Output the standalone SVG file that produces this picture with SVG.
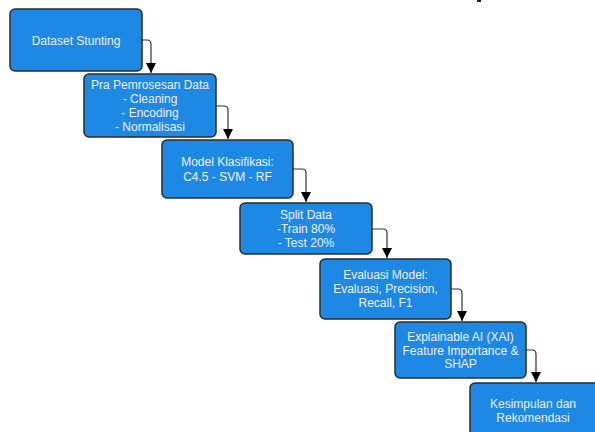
<svg xmlns="http://www.w3.org/2000/svg" width="595" height="432" viewBox="0 0 595 432">
<style>
.box{fill:#1E88E5;stroke:#2b2b2b;stroke-width:1.5}
.t{font-family:"Liberation Sans",Arial,sans-serif;font-size:12px;fill:#f2f2f2;text-anchor:middle}
.c{fill:none;stroke:#333;stroke-width:1.2}
</style>
<defs>
<marker id="ah" markerWidth="10" markerHeight="10" refX="10" refY="5" orient="auto" markerUnits="userSpaceOnUse" viewBox="0 0 10 10">
<path d="M0,0 L10,5 L0,10 Z" fill="#000"/>
</marker>
</defs>
<rect width="595" height="432" fill="#fff"/>
<g id="connectors">
<path class="c" d="M142,40 H147 Q151,40 151,44 V73" marker-end="url(#ah)"/>
<path class="c" d="M216,106 H224 Q228,106 228,110 V139" marker-end="url(#ah)"/>
<path class="c" d="M293,169 H302 Q306,169 306,173 V202" marker-end="url(#ah)"/>
<path class="c" d="M372,229 H383 Q387,229 387,233 V258" marker-end="url(#ah)"/>
<path class="c" d="M451,289 H458 Q462,289 462,293 V321" marker-end="url(#ah)"/>
<path class="c" d="M526,350 H532 Q536,350 536,354 V382" marker-end="url(#ah)"/>
<rect x="477" y="0" width="4" height="2" fill="#222"/>
</g>
<g id="n1"><rect class="box" x="10" y="9" width="132" height="62" rx="5"/><text class="t" x="76" y="45">Dataset Stunting</text></g>
<g id="n2"><rect class="box" x="84" y="74" width="132" height="63" rx="5"/>
<text class="t" x="150" y="89">Pra Pemrosesan Data</text><text class="t" x="150" y="103">- Cleaning</text><text class="t" x="150" y="117">- Encoding</text><text class="t" x="150" y="131">- Normalisasi</text></g>
<g id="n3"><rect class="box" x="162" y="140" width="131" height="58" rx="5"/>
<text class="t" x="227.5" y="166">Model Klasifikasi:</text><text class="t" x="227.5" y="181">C4.5 - SVM - RF</text></g>
<g id="n4"><rect class="box" x="240" y="203" width="132" height="51" rx="5"/>
<text class="t" x="306" y="219">Split Data</text><text class="t" x="306" y="233">-Train 80%</text><text class="t" x="306" y="247">- Test 20%</text></g>
<g id="n5"><rect class="box" x="320" y="259" width="131" height="60" rx="5"/>
<text class="t" x="385.5" y="279">Evaluasi Model:</text><text class="t" x="385.5" y="293">Evaluasi, Precision,</text><text class="t" x="385.5" y="307">Recall, F1</text></g>
<g id="n6"><rect class="box" x="395" y="322" width="131" height="56" rx="5"/>
<text class="t" x="460.5" y="341">Explainable AI (XAI)</text><text class="t" x="460.5" y="355">Feature Importance &amp;</text><text class="t" x="460.5" y="368">SHAP</text></g>
<g id="n7"><rect class="box" x="470" y="383" width="132" height="60" rx="5"/>
<text class="t" x="533" y="408">Kesimpulan dan</text><text class="t" x="533" y="422">Rekomendasi</text></g>
</svg>
